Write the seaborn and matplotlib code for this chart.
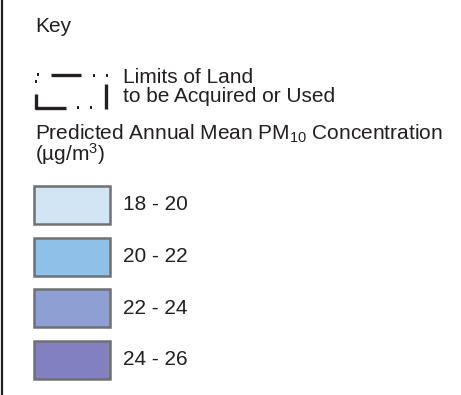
import matplotlib
matplotlib.use("Agg")
import matplotlib.pyplot as plt
from matplotlib.patches import Rectangle
import seaborn as sns

# ---- data ----
title = "Key"
boundary_label = ["Limits of Land", "to be Acquired or Used"]
scale_title = ["Predicted Annual Mean PM$_{10}$ Concentration", "(µg/m$^{3}$)"]
ranges = ["18 - 20", "20 - 22", "22 - 24", "24 - 26"]
colors = ["#d2e5f4", "#8fc1e8", "#8d9fd3", "#8380bf"]

sns.set_theme(style="white")
plt.rcParams["font.family"] = ["Liberation Sans", "DejaVu Sans"]
plt.rcParams["mathtext.fontset"] = "custom"
plt.rcParams["mathtext.rm"] = "Liberation Sans"
plt.rcParams["mathtext.it"] = "Liberation Sans"
plt.rcParams["mathtext.default"] = "regular"

W, H = 461, 395
fig = plt.figure(figsize=(W / 100, H / 100), dpi=100)
ax = fig.add_axes([0, 0, 1, 1])
ax.set_xlim(0, W)
ax.set_ylim(H, 0)
ax.axis("off")

txt = "#231f20"
fs = 15

# left border
ax.plot([1.5, 1.5], [0, H], color="#231f20", lw=1.6, solid_capstyle="butt")

ax.text(35, 27, title, fontsize=fs, color=txt, va="center", ha="left")

# boundary symbol
lk = dict(color="#231f20", lw=2.4, solid_capstyle="butt")
ax.plot([51, 81], [75, 75], **lk)
ax.plot([36, 36], [94, 109], **lk)
ax.plot([35, 66], [108, 108], **lk)
ax.plot([106, 106], [84, 109], **lk)
for (x, y) in [(38, 74), (36, 81), (94, 75), (107, 75), (78, 107.5), (91, 107.5)]:
    ax.add_patch(Rectangle((x - 1.2, y - 1.5), 2.4, 3, color="#231f20", lw=0))

# two-line boundary label as one text object
ax.text(123, 101.5, "\n".join(boundary_label), fontsize=fs, color=txt,
        va="baseline", ha="left", linespacing=0.95)

# two-line scale title as one text object
ax.text(35, 160.5, "\n".join(scale_title), fontsize=fs, color=txt,
        va="baseline", ha="left", linespacing=0.78)

# colour boxes
top0, step, bh = 186, 51.5, 38
for i, (lab, c) in enumerate(zip(ranges, colors)):
    y = top0 + i * step
    ax.add_patch(Rectangle((34, y), 76, bh, facecolor=c, edgecolor="#6f7072", lw=1.8))
    ax.text(123, y + bh / 2, lab, fontsize=fs, color=txt, va="center")

fig.savefig("out.png", dpi=100)
